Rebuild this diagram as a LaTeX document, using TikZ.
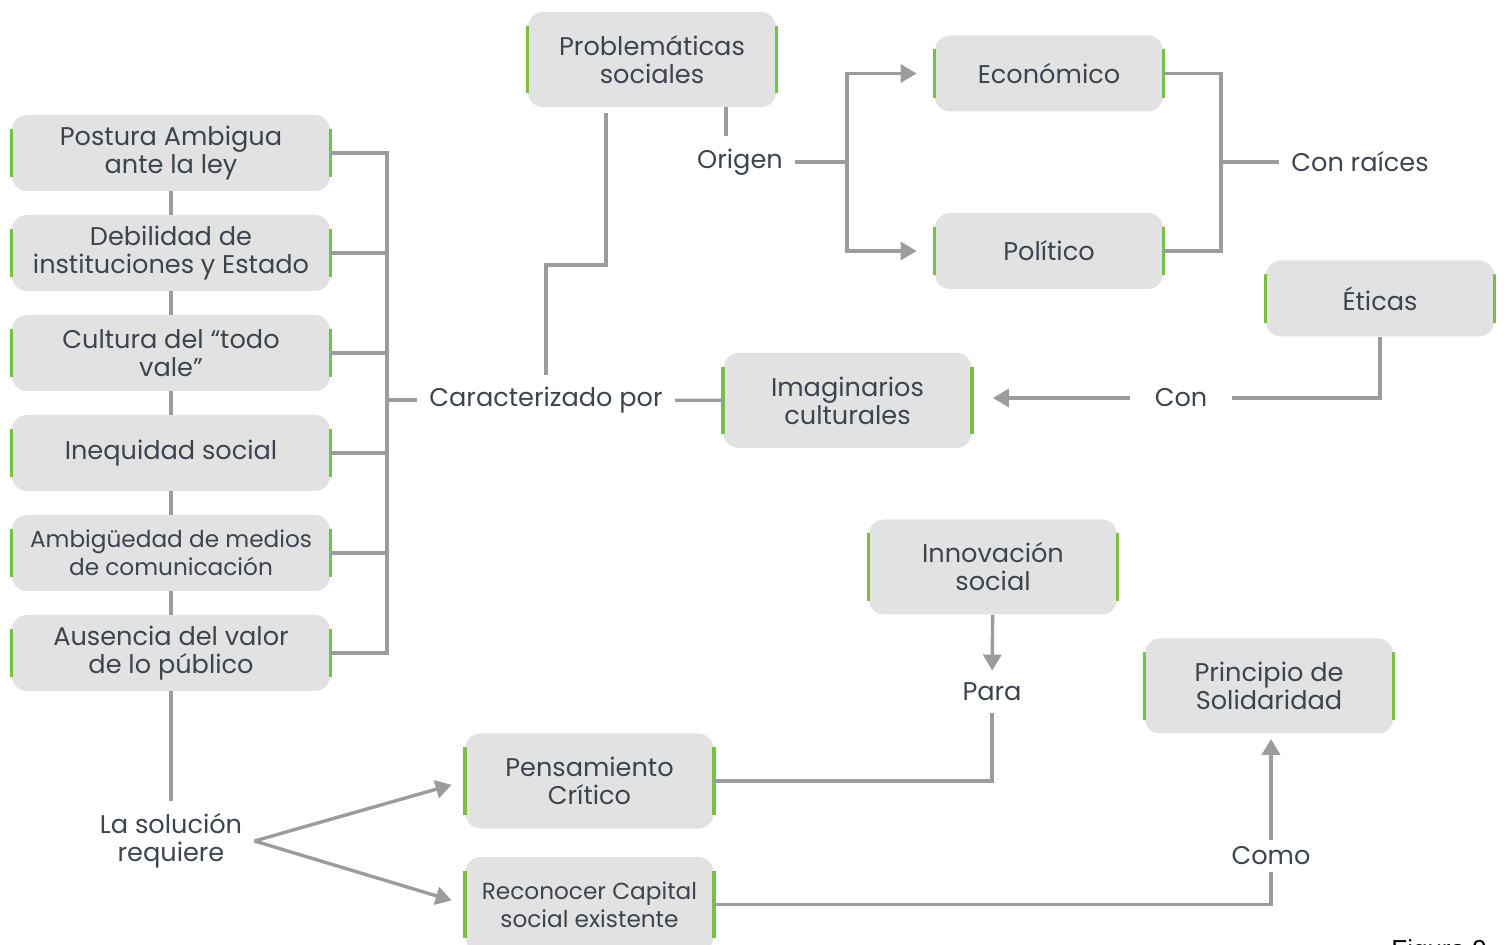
\documentclass[tikz,border=0pt]{standalone}
\usepackage{fontspec}
\setmainfont{Poppins}
\newfontfamily\figfont{Liberation Sans}
\usepackage{tikz}
\usetikzlibrary{arrows.meta}
\definecolor{boxfill}{RGB}{226,226,226}
\definecolor{bargreen}{RGB}{122,190,67}
\definecolor{linegray}{RGB}{154,156,157}
\definecolor{txt}{RGB}{60,68,78}

\begin{document}
\begin{tikzpicture}[x=0.5pt,y=-0.5pt,
        every node/.style={font=\fontsize{12.8}{14}\selectfont, text=txt},
        main/.style={fill=boxfill, rounded corners=7.5pt, align=center, inner sep=0pt, minimum width=124pt, minimum height=47.5pt},
        wide/.style={main, minimum width=159pt, minimum height=38pt},
        short/.style={main, minimum width=114pt, minimum height=38pt},
        lab/.style={align=center, inner sep=6pt},
        bar/.style={draw=bargreen, line width=1.75pt},
        line/.style={draw=linegray, line width=1.7pt},
        >={Triangle[length=8pt,width=9pt]},
        node distance={50pt}]
        \useasboundingbox (0,0) rectangle (1504,945);
        % left column
        \node[wide] (1) at (171,153) {Postura Ambigua\\ante la ley};
        \node[wide] (2) [below of=1] {Debilidad de\\instituciones y Estado};
        \node[wide] (3) [below of=2] {Cultura del “todo\\vale”};
        \node[wide] (4) [below of=3] {Inequidad social};
        \node[wide, font=\fontsize{11.6}{13.8}\selectfont] (5) [below of=4] {Ambigüedad de medios\\de comunicación};
        \node[wide] (6) [below of=5] {Ausencia del valor\\de lo público};
        \node[lab] (7) at (546,400) {Caracterizado por};
        \node[main] (8) at (652,59.5) {Problemáticas\\sociales};
        \node[lab] (9) at (740,162) {Origen};
        \node[short] (10) at (1049,73.5) {Económico};
        \node[short] (11) at (1049,251) {Político};
        \node[lab] (12) at (1360,162) {Con raíces};
        \node[main] (13) at (847.5,400.5) {Imaginarios\\culturales};
        \node[short] (14) at (1380,298.5) {Éticas};
        \node[lab, inner xsep=12pt] (15) at (1181,398) {Con};
        \node[main] (16) at (993,567) {Innovación\\social};
        \node[lab] (17) at (992,692) {Para};
        \node[main] (18) at (589.5,781) {Pensamiento\\Crítico};
        \node[main, font=\fontsize{11.6}{13.8}\selectfont] (19) at (589.5,904.5) {Reconocer Capital\\social existente};
        \node[main] (20) at (1269,686) {Principio de\\Solidaridad};
        \node[lab, inner sep=3pt] (21) at (1271,856) {Como};
        \node[lab] (22) at (171,841) {La solución\\requiere};
        \node[anchor=north west, inner sep=0pt, text=black, font=\figfont\fontsize{13}{15}\selectfont] (23) at (1391,939) {Figura 9};
        % green edges
        \foreach \n in {1,2,3,4,5,6,8,10,11,13,14,16,18,19,20} {
            \draw[bar] ([yshift=-7pt]\n.north west) -- ([yshift=7pt]\n.south west);
            \draw[bar] ([yshift=-7pt]\n.north east) -- ([yshift=7pt]\n.south east);
        }
        % connectors
        \draw[line] (1) -- (2);
        \draw[line] (2) -- (3);
        \draw[line] (3) -- (4);
        \draw[line] (4) -- (5);
        \draw[line] (5) -- (6);
        \draw[line] (6) -- (22);
        \coordinate (b1) at (387,400);
        \foreach \n in {1,...,6} \draw[line] (\n.east) -| (b1);
        \draw[line] (b1) -- (7);
        \draw[line] (7) -- (13);
        \coordinate (b2) at (606,265);
        \draw[line, shorten >=3pt] (7.north) |- (b2) -- (b2 |- 8.south);
        \coordinate (b3) at (726,107);
        \draw[line] (b3) -- (b3 |- 9.north);
        \coordinate (b4) at (847,162);
        \draw[line] (9) -- (b4);
        \draw[line, ->, shorten >=9pt] (b4) |- (10.west);
        \draw[line, ->, shorten >=9pt] (b4) |- (11.west);
        \coordinate (b5) at (1221,162);
        \draw[line] (10.east) -| (b5);
        \draw[line] (11.east) -| (b5);
        \draw[line] (b5) -- (12);
        \draw[line] (14.south) |- (15.east);
        \draw[line, ->, shorten >=10.5pt] (15) -- (15 -| 13.east);
        \draw[line, ->] (16) -- (17);
        \draw[line] (17.south) |- (18.east);
        \draw[line] (19.east) -| (21.south);
        \draw[line, ->, shorten >=2.5pt] (21.north) -- (21.north |- 20.south);
        \draw[line, ->, shorten >=7pt] (22.east) -- (18.west);
        \draw[line, ->, shorten >=7pt] (22.east) -- (19.west);
\end{tikzpicture}
\end{document}
